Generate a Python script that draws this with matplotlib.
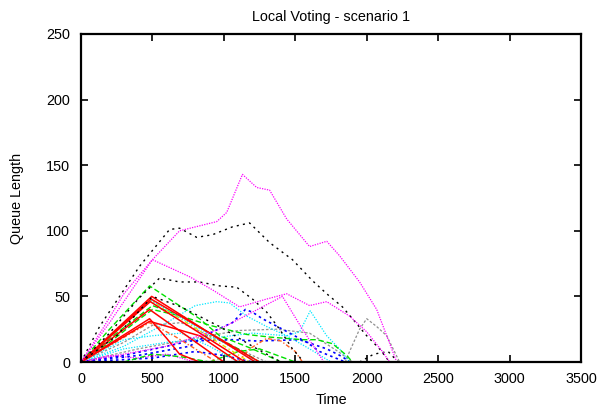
import matplotlib
matplotlib.use("Agg")
import matplotlib.pyplot as plt

plt.rcParams["font.family"] = ["Liberation Sans", "DejaVu Sans"]

# queue length traces, one per queue (time, length)
magenta_1_t = [0, 150, 300, 500, 690, 950, 1020, 1130, 1230, 1320, 1440, 1600, 1720, 1810, 1950, 2070, 2140, 2210]
magenta_1_v = [0, 25, 52, 78, 100, 107, 114, 143, 133, 131, 109, 88, 92, 81, 61, 40, 20, 0]
magenta_2_t = [0, 200, 400, 500, 600, 760, 920, 1110, 1300, 1440, 1600, 1720, 1880, 2000, 2110, 2160]
magenta_2_v = [0, 30, 62, 78, 73, 65, 55, 42, 48, 52, 43, 46, 35, 23, 8, 0]
magenta_3_t = [0, 300, 600, 970, 1200, 1410, 1550, 1700]
magenta_3_v = [0, 6, 12, 25, 38, 50, 25, 0]
magenta_4_t = [0, 200, 400, 600, 800]
magenta_4_v = [0, 5, 3, 6, 0]

black_1_t = [0, 130, 410, 620, 690, 810, 920, 1060, 1180, 1320, 1480, 1620, 1720, 1830, 1900, 2000, 2090, 2160]
black_1_v = [0, 27, 73, 101, 102, 95, 97, 103, 106, 91, 78, 62, 52, 42, 33, 20, 10, 0]
black_2_t = [0, 200, 400, 550, 690, 830, 970, 1090, 1200, 1300, 1390, 1480, 1560]
black_2_v = [0, 22, 48, 64, 61, 61, 58, 57, 48, 38, 25, 10, 0]
black_3_t = [0, 250, 500, 700, 970, 1200, 1400]
black_3_v = [0, 20, 50, 42, 27, 12, 0]
black_4_t = [1950, 2050, 2150, 2220]
black_4_v = [0, 6, 8, 0]

gray_1_t = [1850, 1880, 1950, 2000, 2070, 2140, 2230]
gray_1_v = [0, 8, 25, 33, 27, 20, 0]
gray_2_t = [0, 400, 800, 1100, 1370, 1600, 1800, 1900]
gray_2_v = [0, 10, 18, 24, 25, 22, 8, 0]
gray_3_t = [0, 300, 500, 700, 1000, 1300]
gray_3_v = [0, 15, 28, 30, 15, 0]

cyan_1_t = [0, 300, 600, 900, 1200, 1440, 1530, 1605, 1720, 1810, 1880]
cyan_1_v = [0, 10, 15, 18, 22, 20, 23, 39, 20, 10, 0]
cyan_2_t = [0, 300, 600, 800, 950, 1040, 1160, 1300, 1440, 1600, 1750]
cyan_2_v = [0, 12, 30, 43, 46, 45, 35, 27, 20, 10, 0]
cyan_3_t = [0, 490, 1230]
cyan_3_v = [0, 47, 0]
cyan_4_t = [0, 300, 500, 700, 900, 1100]
cyan_4_v = [0, 17, 20, 22, 12, 0]

blue_1_t = [0, 400, 760, 920, 1060, 1150, 1200, 1270, 1410, 1580, 1670, 1850]
blue_1_v = [0, 5, 12, 23, 30, 40, 38, 33, 25, 15, 8, 0]
blue_2_t = [0, 300, 600, 760, 1060, 1230, 1530, 1720, 1830, 1880]
blue_2_v = [0, 5, 12, 16, 17, 16, 17, 10, 4, 0]
blue_3_t = [0, 500, 800, 1000, 1200]
blue_3_v = [0, 3, 8, 5, 0]

green_1_t = [0, 200, 480, 660, 830, 970, 1200, 1400]
green_1_v = [0, 25, 58, 45, 33, 20, 10, 0]
green_2_t = [0, 200, 400, 500, 700, 900, 1160, 1320, 1550, 1650, 1760, 1860, 1900]
green_2_v = [0, 15, 32, 40, 35, 28, 21, 19, 17, 17, 14, 5, 0]
green_3_t = [0, 250, 500, 700, 900, 1100, 1250]
green_3_v = [0, 22, 43, 35, 22, 10, 0]
green_4_t = [900, 1100, 1250, 1500]
green_4_v = [0, 8, 10, 0]
green_5_t = [300, 500, 700, 900]
green_5_v = [0, 6, 4, 0]

red_1_t = [0, 495, 1220]
red_1_v = [0, 50, 0]
red_2_t = [0, 490, 1250]
red_2_v = [0, 48, 0]
red_3_t = [0, 485, 1150]
red_3_v = [0, 46, 0]
red_4_t = [0, 480, 1000]
red_4_v = [0, 40, 0]
red_5_t = [0, 480, 600, 690, 830]
red_5_v = [0, 33, 18, 6, 0]
red_6_t = [0, 480, 830, 1100]
red_6_v = [0, 31, 20, 0]

orange_1_t = [0, 480, 650, 800, 950]
orange_1_v = [0, 30, 20, 10, 0]
orange_2_t = [1100, 1180, 1300, 1400, 1500, 1550]
orange_2_v = [0, 10, 18, 16, 8, 0]

yellow_1_t = [0, 490, 1180]
yellow_1_v = [0, 47, 0]

# gnuplot-like line types
styles = {
    "red": dict(color="#ff0000", linestyle="-", lw=1.1),
    "green": dict(color="#00e000", linestyle=(0, (4, 2)), lw=1.0),
    "blue": dict(color="#0000ff", linestyle=(0, (1.5, 2)), lw=1.2),
    "magenta": dict(color="#ff00ff", linestyle=(0, (1, 1)), lw=0.9),
    "cyan": dict(color="#00e8ff", linestyle=(0, (1, 1.2)), lw=0.9),
    "yellow": dict(color="#e0e000", linestyle=(0, (3, 2, 1, 2)), lw=1.0),
    "black": dict(color="#000000", linestyle=(0, (1.5, 3)), lw=1.0),
    "orange": dict(color="#ff6020", linestyle=(0, (3, 1.5, 1, 1.5)), lw=1.0),
    "gray": dict(color="#909090", linestyle=(0, (2, 1.5)), lw=0.9),
}

traces = [
    ("gray", gray_2_t, gray_2_v), ("gray", gray_3_t, gray_3_v), ("gray", gray_1_t, gray_1_v),
    ("magenta", magenta_4_t, magenta_4_v), ("blue", blue_3_t, blue_3_v),
    ("green", green_4_t, green_4_v), ("green", green_5_t, green_5_v),
    ("cyan", cyan_4_t, cyan_4_v), ("cyan", cyan_1_t, cyan_1_v), ("cyan", cyan_2_t, cyan_2_v),
    ("blue", blue_1_t, blue_1_v), ("blue", blue_2_t, blue_2_v),
    ("green", green_1_t, green_1_v), ("green", green_2_t, green_2_v), ("green", green_3_t, green_3_v),
    ("orange", orange_1_t, orange_1_v), ("orange", orange_2_t, orange_2_v),
    ("yellow", yellow_1_t, yellow_1_v), ("cyan", cyan_3_t, cyan_3_v),
    ("red", red_1_t, red_1_v), ("red", red_2_t, red_2_v), ("red", red_3_t, red_3_v),
    ("red", red_4_t, red_4_v), ("red", red_5_t, red_5_v), ("red", red_6_t, red_6_v),
    ("black", black_3_t, black_3_v), ("black", black_4_t, black_4_v),
    ("black", black_2_t, black_2_v), ("black", black_1_t, black_1_v),
    ("magenta", magenta_3_t, magenta_3_v), ("magenta", magenta_2_t, magenta_2_v),
    ("magenta", magenta_1_t, magenta_1_v),
]

fig = plt.figure(figsize=(6, 4.08), dpi=100)
ax = fig.add_axes([81 / 600, 1 - 362 / 408, 500 / 600, 328 / 408])

for col, t, v in traces:
    ax.plot(t, v, **styles[col])

ax.set_xlim(0, 3500)
ax.set_ylim(0, 250)
ax.set_xticks(range(0, 3501, 500))
ax.set_yticks(range(0, 251, 50))
ax.tick_params(direction="in", length=5, width=1.2, top=True, right=True, labelsize=10.4)
ax.tick_params(axis="y", pad=8)
ax.tick_params(axis="x", pad=7)
for s in ax.spines.values():
    s.set_linewidth(1.6)

ax.set_title("Local Voting - scenario 1", fontsize=10.4, pad=9)
fig.text(331 / 600, 1 - 400 / 408, "Time", ha="center", va="center", fontsize=10.4)
fig.text(17 / 600, 1 - 198 / 408, "Queue Length", ha="center", va="center", rotation=90, fontsize=10.4)

fig.savefig("out.png", dpi=100)
